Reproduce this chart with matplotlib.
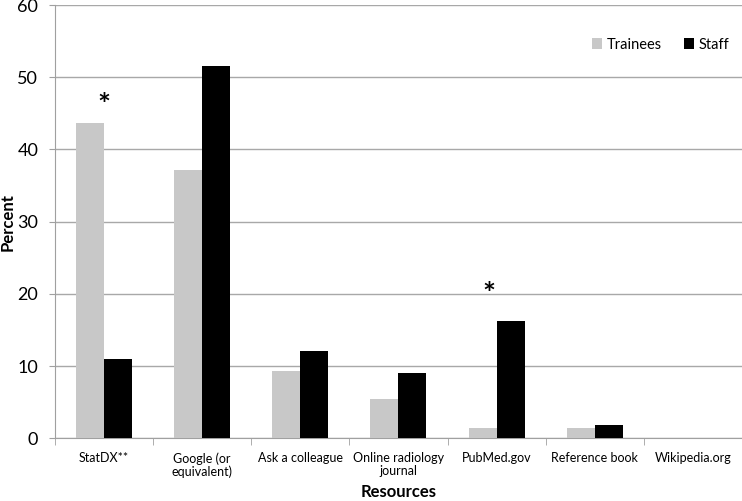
import matplotlib
matplotlib.use("Agg")
import matplotlib.pyplot as plt
import numpy as np

categories = ["StatDX**", "Google (or\nequivalent)", "Ask a colleague", "Online radiology\njournal",
              "PubMed.gov", "Reference book", "Wikipedia.org"]
trainees = [43.7, 37.2, 9.3, 5.4, 1.5, 1.5, 0.0]
staff = [11.0, 51.5, 12.1, 9.1, 16.2, 1.9, 0.0]
significant = [0, 4]
star_y = [46.0, 19.8]

plt.rcParams['font.family'] = ['Lato', 'DejaVu Sans']

fig = plt.figure(figsize=(7.42, 5.01), dpi=100)
ax = fig.add_axes([0.074, 0.125, 0.926, 0.865])

x = np.arange(len(categories))
w = 0.285
ax.bar(x - w / 2, trainees, w, color="#c8c8c8", label="Trainees", zorder=3)
ax.bar(x + w / 2, staff, w, color="#000000", label="Staff", zorder=3)

for i, yv in zip(significant, star_y):
    ax.text(x[i] - 0.08 * (i == 4), yv, "*", ha="center", va="center", fontsize=22, fontweight="bold", zorder=4)

ax.set_xlim(-0.5, len(categories) - 0.5)
ax.set_ylim(0, 60)
ax.set_yticks(range(0, 61, 10))
ax.tick_params(axis="y", length=4, color="#a0a0a0", direction="out", labelsize=13, pad=8)
ax.yaxis.grid(True, color="#a8a8a8", linewidth=1.0, zorder=0)
ax.set_axisbelow(True)

ax.set_xticks(x)
ax.set_xticklabels(categories, fontsize=9, linespacing=1.05)
ax.tick_params(axis="x", length=0, pad=10)
ax.set_xticks(np.arange(-0.5, len(categories) - 0.4, 1), minor=True)
ax.tick_params(axis="x", which="minor", length=5, color="#a0a0a0", direction="out")

for s in ["top", "right"]:
    ax.spines[s].set_visible(False)
ax.spines["left"].set_color("#a0a0a0")
ax.spines["bottom"].set_color("#a0a0a0")

fig.text(8 / 742, 1 - 222 / 501, "Percent", rotation=90, ha="center", va="center",
         fontsize=12, fontweight="bold")
fig.text(0.537, 1 - 492 / 501, "Resources", ha="center", va="center",
         fontsize=12, fontweight="bold")

ax.legend(loc="upper right", bbox_to_anchor=(1.0, 0.955), ncol=2, frameon=False, fontsize=10.5,
          handlelength=0.7, handleheight=0.7, handletextpad=0.3, columnspacing=1.5)

fig.savefig("out.png", dpi=100)
